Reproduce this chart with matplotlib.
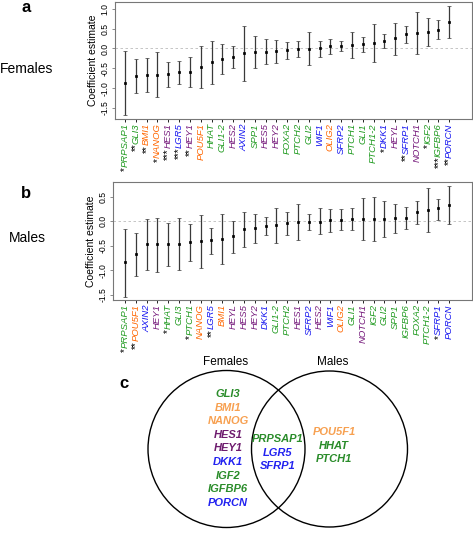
import numpy as np
import matplotlib
matplotlib.use("Agg")
import matplotlib.pyplot as plt
from matplotlib.patches import Circle

plt.rcParams['font.family'] = ['Liberation Sans', 'DejaVu Sans']

# panel a: females
genes_f = ['PRPSAP1', 'GLI3', 'BMI1', 'NANOG', 'HES1', 'LGR5', 'HEY1', 'POU5F1',
           'HHAT', 'GLI1-2', 'HES2', 'AXIN2', 'SPP1', 'HES5', 'HEY2', 'FOXA2',
           'PTCH2', 'GLI2', 'WIF1', 'OLIG2', 'SFRP2', 'PTCH1', 'GLI1', 'PTCH1-2',
           'DKK1', 'HEYL', 'SFRP1', 'NOTCH1', 'IGF2', 'IGFBP6', 'PORCN']
est_f = [-0.875, -0.69, -0.67, -0.66, -0.64, -0.60, -0.58, -0.475, -0.35, -0.27,
         -0.21, -0.11, -0.09, -0.08, -0.07, -0.04, -0.025, -0.01, 0.0, 0.06, 0.07,
         0.09, 0.11, 0.15, 0.19, 0.26, 0.36, 0.40, 0.42, 0.475, 0.67]
lo_f = [-1.67, -1.125, -1.09, -1.225, -0.96, -0.89, -0.96, -1.0, -0.9, -0.65,
        -0.5, -0.81, -0.5, -0.4, -0.375, -0.275, -0.225, -0.425, -0.21, -0.14,
        -0.06, -0.25, -0.09, -0.34, 0.02, -0.16, 0.15, -0.13, 0.05, 0.23, 0.27]
hi_f = [-0.06, -0.275, -0.23, -0.10, -0.33, -0.31, -0.21, 0.06, 0.19, 0.125,
        0.07, 0.56, 0.325, 0.25, 0.225, 0.17, 0.19, 0.425, 0.2, 0.24, 0.2, 0.425,
        0.29, 0.625, 0.36, 0.65, 0.56, 0.925, 0.775, 0.71, 1.075]
stars_f = {'PRPSAP1': '*', 'GLI3': '**', 'BMI1': '**', 'NANOG': '*', 'HES1': '***',
           'LGR5': '***', 'HEY1': '**', 'DKK1': '*', 'SFRP1': '**', 'IGF2': '*',
           'IGFBP6': '***', 'PORCN': '**'}

# panel b: males
genes_m = ['PRPSAP1', 'POU5F1', 'AXIN2', 'HEY1', 'HHAT', 'GLI3', 'PTCH1', 'NANOG',
           'LGR5', 'BMI1', 'HEYL', 'HES5', 'HEY2', 'DKK1', 'GLI1-2', 'PTCH2', 'HES1',
           'SFRP2', 'HES2', 'WIF1', 'OLIG2', 'GLI1', 'NOTCH1', 'IGF2', 'GLI2', 'SPP1',
           'IGFBP6', 'FOXA2', 'PTCH1-2', 'SFRP1', 'PORCN']
est_m = [-0.84, -0.67, -0.47, -0.47, -0.47, -0.46, -0.42, -0.41, -0.39, -0.37,
         -0.31, -0.17, -0.14, -0.095, -0.08, -0.04, -0.02, -0.02, -0.01, 0.015,
         0.02, 0.04, 0.04, 0.04, 0.04, 0.06, 0.07, 0.18, 0.23, 0.26, 0.33]
lo_m = [-1.54, -1.12, -1.0, -1.03, -0.92, -1.0, -0.82, -0.95, -0.67, -0.88, -0.64,
        -0.52, -0.44, -0.28, -0.44, -0.28, -0.39, -0.18, -0.27, -0.22, -0.18, -0.18,
        -0.39, -0.41, -0.32, -0.25, -0.15, -0.05, -0.22, 0.03, -0.06]
hi_m = [-0.17, -0.25, 0.05, 0.07, -0.03, 0.07, -0.05, 0.13, -0.13, 0.15, 0.01,
        0.18, 0.15, 0.095, 0.27, 0.19, 0.35, 0.14, 0.26, 0.24, 0.24, 0.26, 0.475,
        0.50, 0.41, 0.36, 0.28, 0.41, 0.67, 0.46, 0.71]
stars_m = {'PRPSAP1': '*', 'POU5F1': '**', 'HHAT': '*', 'PTCH1': '*', 'LGR5': '**',
           'SFRP1': '*'}

green = ['PRPSAP1', 'GLI3', 'HHAT', 'GLI1-2', 'SPP1', 'FOXA2', 'PTCH2', 'GLI2',
         'PTCH1', 'GLI1', 'PTCH1-2', 'IGF2', 'IGFBP6']
orange = ['BMI1', 'NANOG', 'POU5F1', 'OLIG2']
purple = ['HES1', 'HEY1', 'HES2', 'HES5', 'HEY2', 'HEYL', 'NOTCH1']
blue = ['LGR5', 'AXIN2', 'WIF1', 'SFRP2', 'DKK1', 'SFRP1', 'PORCN']

lab_cols = {'g': '#1f9a1f', 'o': '#ff6600', 'p': '#74177a', 'b': '#1414f0'}
venn_cols = {'g': '#2a8c2a', 'o': '#f7a050', 'p': '#6e1c6e', 'b': '#2222f0'}


def group(g):
    if g in green:
        return 'g'
    if g in orange:
        return 'o'
    if g in purple:
        return 'p'
    return 'b'


def coef_panel(ax, genes, est, lo, hi, stars, ylim, xlim):
    x = np.arange(1, len(genes) + 1)
    est = np.array(est)
    err = [est - np.array(lo), np.array(hi) - est]
    ax.axhline(0, color='#bbbbbb', lw=0.6, ls=(0, (3, 3)), zorder=0)
    ax.errorbar(x, est, yerr=err, fmt='s', ms=1.8, mew=0.5, color='black',
                ecolor='#3a3a3a', elinewidth=0.9, capsize=1.6, capthick=0.8)
    ax.set_xlim(*xlim)
    ax.set_ylim(*ylim)
    ax.set_yticks(np.arange(-1.5, ylim[1], 0.5))
    ax.set_yticklabels(['%.1f' % v for v in np.arange(-1.5, ylim[1], 0.5)],
                       rotation=90, va='center', fontsize=6.2)
    ax.set_ylabel('Coefficient estimate', fontsize=7.5, labelpad=2)
    ax.set_xticks(x)
    ax.set_xticklabels(genes, rotation=90, fontsize=6.8, style='italic',
                       ha='center', va='top')
    ax.tick_params(axis='y', length=2.5, width=0.6, color='#777777', pad=1.5)
    ax.tick_params(axis='x', length=2, width=0.6, pad=1)
    for sp in ax.spines.values():
        sp.set_color('#777777')
        sp.set_linewidth(0.8)
    for g, lbl, tk in zip(genes, ax.get_xticklabels(), ax.xaxis.get_major_ticks()):
        c = lab_cols[group(g)]
        lbl.set_color(c)
        tk.tick1line.set_color(c)
        if g in stars:
            ax.annotate(stars[g], xy=(0.5, 0), xycoords=lbl, xytext=(0, 0.1),
                        textcoords='offset points', rotation=90, ha='center',
                        va='top', fontsize=7, color='black')


fig = plt.figure(figsize=(4.73, 5.33), dpi=100)

ax_a = fig.add_axes([115 / 473, 1 - 119 / 533, 357 / 473, 117 / 533])
coef_panel(ax_a, genes_f, est_f, lo_f, hi_f, stars_f, (-1.775, 1.17), (0.07, 33.1))

ax_b = fig.add_axes([113 / 473, 1 - 300 / 533, 359 / 473, 118 / 533])
coef_panel(ax_b, genes_m, est_m, lo_m, hi_m, stars_m, (-1.61, 0.80), (-0.11, 33.1))

fig.text(26 / 473, 1 - 7 / 533, 'a', fontsize=12, fontweight='bold', ha='center', va='center')
fig.text(0, 1 - 69 / 533, 'Females', fontsize=10, ha='left', va='center')
fig.text(26 / 473, 1 - 194 / 533, 'b', fontsize=12, fontweight='bold', ha='center', va='center')
fig.text(27 / 473, 1 - 238 / 533, 'Males', fontsize=10, ha='center', va='center')

# panel c: venn of significant genes
sig_f = [g for g in genes_f if g in stars_f]
sig_m = [g for g in genes_m if g in stars_m]
both = [g for g in sig_f if g in sig_m]
only_f = [g for g in sig_f if g not in sig_m]
only_m = [g for g in sig_m if g not in sig_f]

ax_c = fig.add_axes([0, 0, 1, 1])
ax_c.set_xlim(0, 473)
ax_c.set_ylim(533, 0)
ax_c.axis('off')
ax_c.patch.set_visible(False)
ax_c.add_patch(Circle((226.5, 449), 78.5, fill=False, lw=1.0, color='black'))
ax_c.add_patch(Circle((329.5, 449), 78, fill=False, lw=1.0, color='black'))
ax_c.text(226, 362, 'Females', fontsize=8.5, ha='center', va='center')
ax_c.text(333, 362, 'Males', fontsize=8.5, ha='center', va='center')
ax_c.text(124, 384, 'c', fontsize=12, fontweight='bold', ha='center', va='center')

for names, x0, y0 in [(only_f, 228, 394), (both, 278, 439), (only_m, 334, 432)]:
    for i, g in enumerate(names):
        ax_c.text(x0, y0 + i * 13.6, g, fontsize=8, style='italic', fontweight='bold',
                  color=venn_cols[group(g)], ha='center', va='center')

fig.savefig('out.png', dpi=100)
